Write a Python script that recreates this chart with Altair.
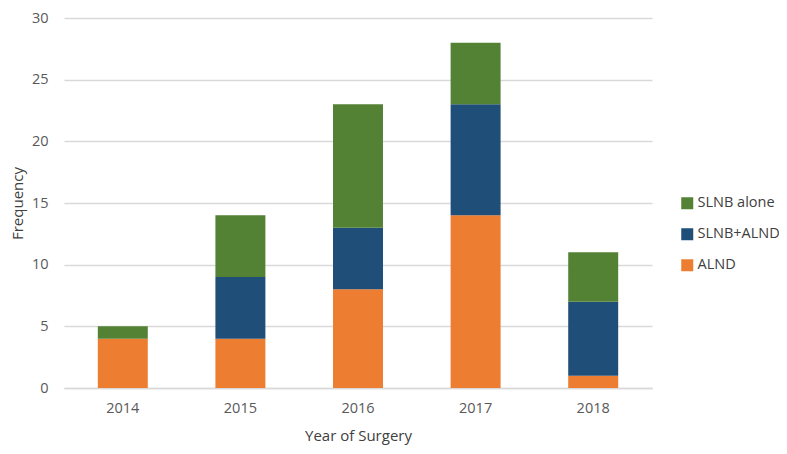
import altair as alt
import pandas as pd

years = ["2014", "2015", "2016", "2017", "2018"]
alnd = [4, 4, 8, 14, 1]
slnb_alnd = [0, 5, 5, 9, 6]
slnb_alone = [1, 5, 10, 5, 4]
series = ["SLNB alone", "SLNB+ALND", "ALND"]
colors = ["#548235", "#1F4E79", "#ED7D31"]

rows = []
for i, y in enumerate(years):
    rows.append({"Year": y, "Type": "ALND", "Value": alnd[i], "ord": 0})
    rows.append({"Year": y, "Type": "SLNB+ALND", "Value": slnb_alnd[i], "ord": 1})
    rows.append({"Year": y, "Type": "SLNB alone", "Value": slnb_alone[i], "ord": 2})
df = pd.DataFrame(rows)

font = "Open Sans"
chart = alt.Chart(df).mark_bar().encode(
    x=alt.X("Year:N", title="Year of Surgery",
            scale=alt.Scale(paddingInner=0.575, paddingOuter=0.2875),
            axis=alt.Axis(labelAngle=0, ticks=False, domainColor="#D9D9D9", domainWidth=1.5,
                          labelPadding=13, titlePadding=14)),
    y=alt.Y("Value:Q", title="Frequency", stack="zero",
            scale=alt.Scale(domain=[0, 30]),
            axis=alt.Axis(values=[0, 5, 10, 15, 20, 25, 30], ticks=False, domain=False,
                          gridColor="#D9D9D9", gridWidth=1.5, labelPadding=16, titlePadding=6)),
    color=alt.Color("Type:N", scale=alt.Scale(domain=series, range=colors),
                    legend=alt.Legend(title=None, orient="none", legendX=616, legendY=178,
                                      symbolType="square", symbolSize=144, symbolStrokeWidth=0,
                                      rowPadding=16, labelFontSize=14.5, labelColor="#404040",
                                      labelFont=font, labelOffset=3)),
    order=alt.Order("ord:Q", sort="ascending"),
).properties(
    width=588, height=370,
    autosize=alt.AutoSizeParams(type="none"),
    padding={"left": 56, "top": 10, "right": 127, "bottom": 58},
).configure_axis(
    labelFont=font, titleFont=font, labelFontSize=14.5, titleFontSize=15,
    labelColor="#595959", titleColor="#404040", titleFontWeight="normal",
).configure_view(stroke=None)

chart.save("out.html", embed_options={"renderer": "svg", "actions": False})
